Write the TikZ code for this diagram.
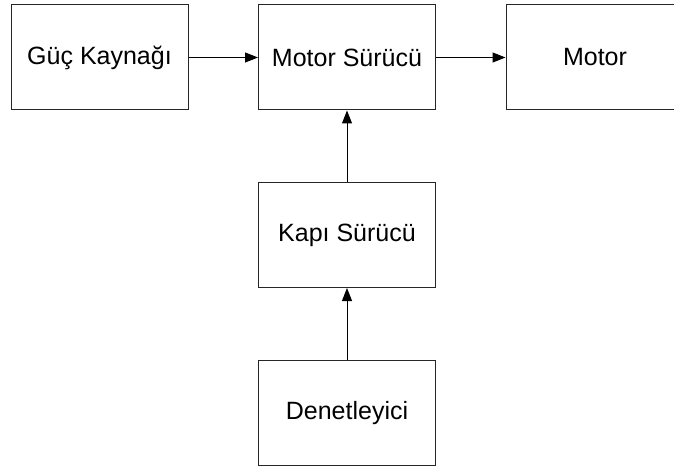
\documentclass[tikz,border=0pt]{standalone}
\usepackage{fontspec}
\setmainfont{Liberation Sans}
\usetikzlibrary{arrows.meta}
\begin{document}
\begin{tikzpicture}[x=1pt,y=-1pt,
  label text/.style={font=\fontsize{25}{30}\selectfont},
  block/.style={draw=black!85, line width=1pt, minimum width=177pt, minimum height=105pt,
    inner sep=0pt, label text},
  link/.style={line width=1pt, -{Triangle[length=13pt,width=10pt]}}]
  \clip (0,0) rectangle (674,468);
  \useasboundingbox (0,0) rectangle (674,468);
  \node[block] (power)  at (99.5,57.5)  {Güç Kaynağı};
  \node[block] (driver) at (347,57.5)   {Motor Sürücü};
  \node[block, minimum width=180pt] (motor) at (596,57.5) {};
  \node[label text] (motorlbl) at (595,57.5) {Motor};
  \node[block] (gate)   at (347,235)    {Kapı Sürücü};
  \node[block] (ctrl)   at (347,413)    {Denetleyici};
  \draw[link] (power) -- (driver);
  \draw[link] (driver) -- (motor.west |- driver.east);
  \draw[link] (gate) -- (driver);
  \draw[link] (ctrl) -- (gate);
\end{tikzpicture}
\end{document}
